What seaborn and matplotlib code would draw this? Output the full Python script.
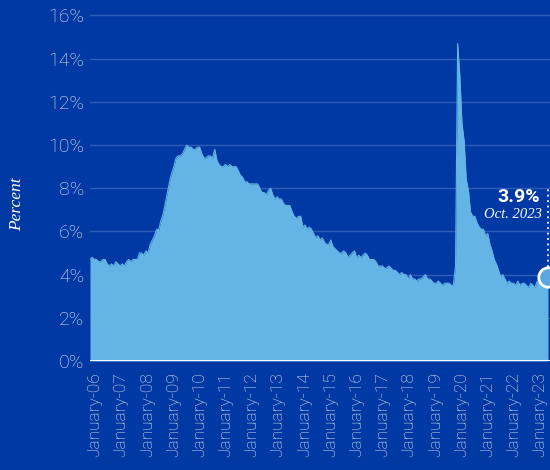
import numpy as np
import pandas as pd
import matplotlib
matplotlib.use("Agg")
import matplotlib.pyplot as plt
import seaborn as sns

# Monthly unemployment rate, Jan 2006 - Oct 2023 (%)
rate_2006 = [4.7, 4.8, 4.7, 4.7, 4.6, 4.6, 4.7, 4.7, 4.5, 4.4, 4.5, 4.4]
rate_2007 = [4.6, 4.5, 4.4, 4.5, 4.4, 4.6, 4.7, 4.6, 4.7, 4.7, 4.7, 5.0]
rate_2008 = [5.0, 4.9, 5.1, 5.0, 5.4, 5.6, 5.8, 6.1, 6.1, 6.5, 6.8, 7.3]
rate_2009 = [7.8, 8.3, 8.7, 9.0, 9.4, 9.5, 9.5, 9.6, 9.8, 10.0, 9.9, 9.9]
rate_2010 = [9.8, 9.8, 9.9, 9.9, 9.6, 9.4, 9.4, 9.5, 9.5, 9.4, 9.8, 9.3]
rate_2011 = [9.1, 9.0, 9.0, 9.1, 9.0, 9.1, 9.0, 9.0, 9.0, 8.8, 8.6, 8.5]
rate_2012 = [8.3, 8.3, 8.2, 8.2, 8.2, 8.2, 8.2, 8.0, 7.8, 7.8, 7.7, 7.9]
rate_2013 = [8.0, 7.7, 7.5, 7.6, 7.5, 7.5, 7.3, 7.2, 7.2, 7.2, 6.9, 6.7]
rate_2014 = [6.6, 6.7, 6.7, 6.2, 6.3, 6.1, 6.2, 6.1, 5.9, 5.7, 5.8, 5.6]
rate_2015 = [5.7, 5.5, 5.4, 5.4, 5.6, 5.3, 5.2, 5.1, 5.0, 5.0, 5.1, 5.0]
rate_2016 = [4.8, 4.9, 5.0, 5.1, 4.8, 4.9, 4.8, 4.9, 5.0, 4.9, 4.7, 4.7]
rate_2017 = [4.7, 4.6, 4.4, 4.4, 4.4, 4.3, 4.3, 4.4, 4.3, 4.2, 4.2, 4.1]
rate_2018 = [4.0, 4.1, 4.0, 4.0, 3.8, 4.0, 3.8, 3.8, 3.7, 3.8, 3.8, 3.9]
rate_2019 = [4.0, 3.8, 3.8, 3.7, 3.6, 3.6, 3.7, 3.6, 3.5, 3.6, 3.6, 3.6]
rate_2020 = [3.5, 3.5, 4.4, 14.7, 13.2, 11.0, 10.2, 8.4, 7.9, 6.9, 6.7, 6.7]
rate_2021 = [6.4, 6.2, 6.1, 6.1, 5.8, 5.9, 5.4, 5.1, 4.7, 4.5, 4.2, 3.9]
rate_2022 = [4.0, 3.8, 3.6, 3.7, 3.6, 3.6, 3.5, 3.7, 3.5, 3.6, 3.6, 3.5]
rate_2023 = [3.4, 3.6, 3.5, 3.4, 3.7, 3.6, 3.5, 3.8, 3.8, 3.9]

year_labels = ["January-%02d" % y for y in range(6, 24)]
y_ticks = [0, 2, 4, 6, 8, 10, 12, 14, 16]
callout_value = "3.9%"
callout_date = "Oct. 2023"
y_title = "Percent"

rates = (rate_2006 + rate_2007 + rate_2008 + rate_2009 + rate_2010 + rate_2011 +
         rate_2012 + rate_2013 + rate_2014 + rate_2015 + rate_2016 + rate_2017 +
         rate_2018 + rate_2019 + rate_2020 + rate_2021 + rate_2022 + rate_2023)
df = pd.DataFrame({"idx": np.arange(len(rates)), "rate": rates})

BG = "#0039a4"
FILL = "#64b4e6"
GRID = "#2f5cb8"
TXT = "#e4eaf6"

sns.set_theme(style="dark")
plt.rcParams["font.family"] = ["Roboto", "DejaVu Sans"]

fig = plt.figure(figsize=(5.5, 4.7), dpi=100, facecolor=BG)
ax = fig.add_axes([90 / 550, 109 / 470, 460 / 550, 352 / 470])
ax.set_facecolor(BG)

ax.fill_between(df["idx"], df["rate"], 0, color=FILL, lw=0, zorder=2)
sns.lineplot(data=df, x="idx", y="rate", ax=ax, color=FILL, lw=0.8, zorder=3)

ax.set_xlim(0, 213.95)
ax.set_ylim(0, 16.3)

for s in ax.spines.values():
    s.set_visible(False)
ax.axhline(0, color="white", lw=2.2, zorder=4)

ax.set_yticks(y_ticks)
ax.set_yticklabels(["%d%%" % v for v in y_ticks], color=TXT, fontsize=14,
                   fontweight="light")
ax.yaxis.grid(True, color=GRID, lw=1.0, zorder=0)
ax.xaxis.grid(False)
ax.set_axisbelow(True)

tick_pos = np.linspace(2.3, 209.3, len(year_labels))
ax.set_xticks(tick_pos)
ax.set_xticklabels(year_labels, rotation=90, color=TXT, fontsize=12.5,
                   fontweight="light")
ax.tick_params(axis="x", length=0, pad=8)
ax.tick_params(axis="y", length=0, pad=4)
ax.set_xlabel("")
ax.set_ylabel("")

fig.text(17 / 550, 1 - 204 / 470, y_title, rotation=90, ha="center", va="center",
         family=["Liberation Serif"], style="italic", fontsize=12.5, color="white")

last = len(rates) - 1
ax.plot([last], [rates[-1]], marker="o", ms=14, mfc="#5aa6e0", mec="white",
        mew=2, zorder=6, clip_on=True)
ax.plot([last, last], [rates[-1] + 0.45, 8.1], color="white", lw=1.3,
        linestyle=(0, (1, 2)), zorder=5, clip_on=False)

fig.text(540 / 550, 1 - 197 / 470, callout_value, ha="right", va="center",
         fontsize=14, fontweight="bold", color="white")
fig.text(542 / 550, 1 - 214 / 470, callout_date, ha="right", va="center",
         family=["Liberation Serif"], style="italic", fontsize=10.5, color="white")

fig.savefig("out.png", dpi=100, facecolor=BG)
